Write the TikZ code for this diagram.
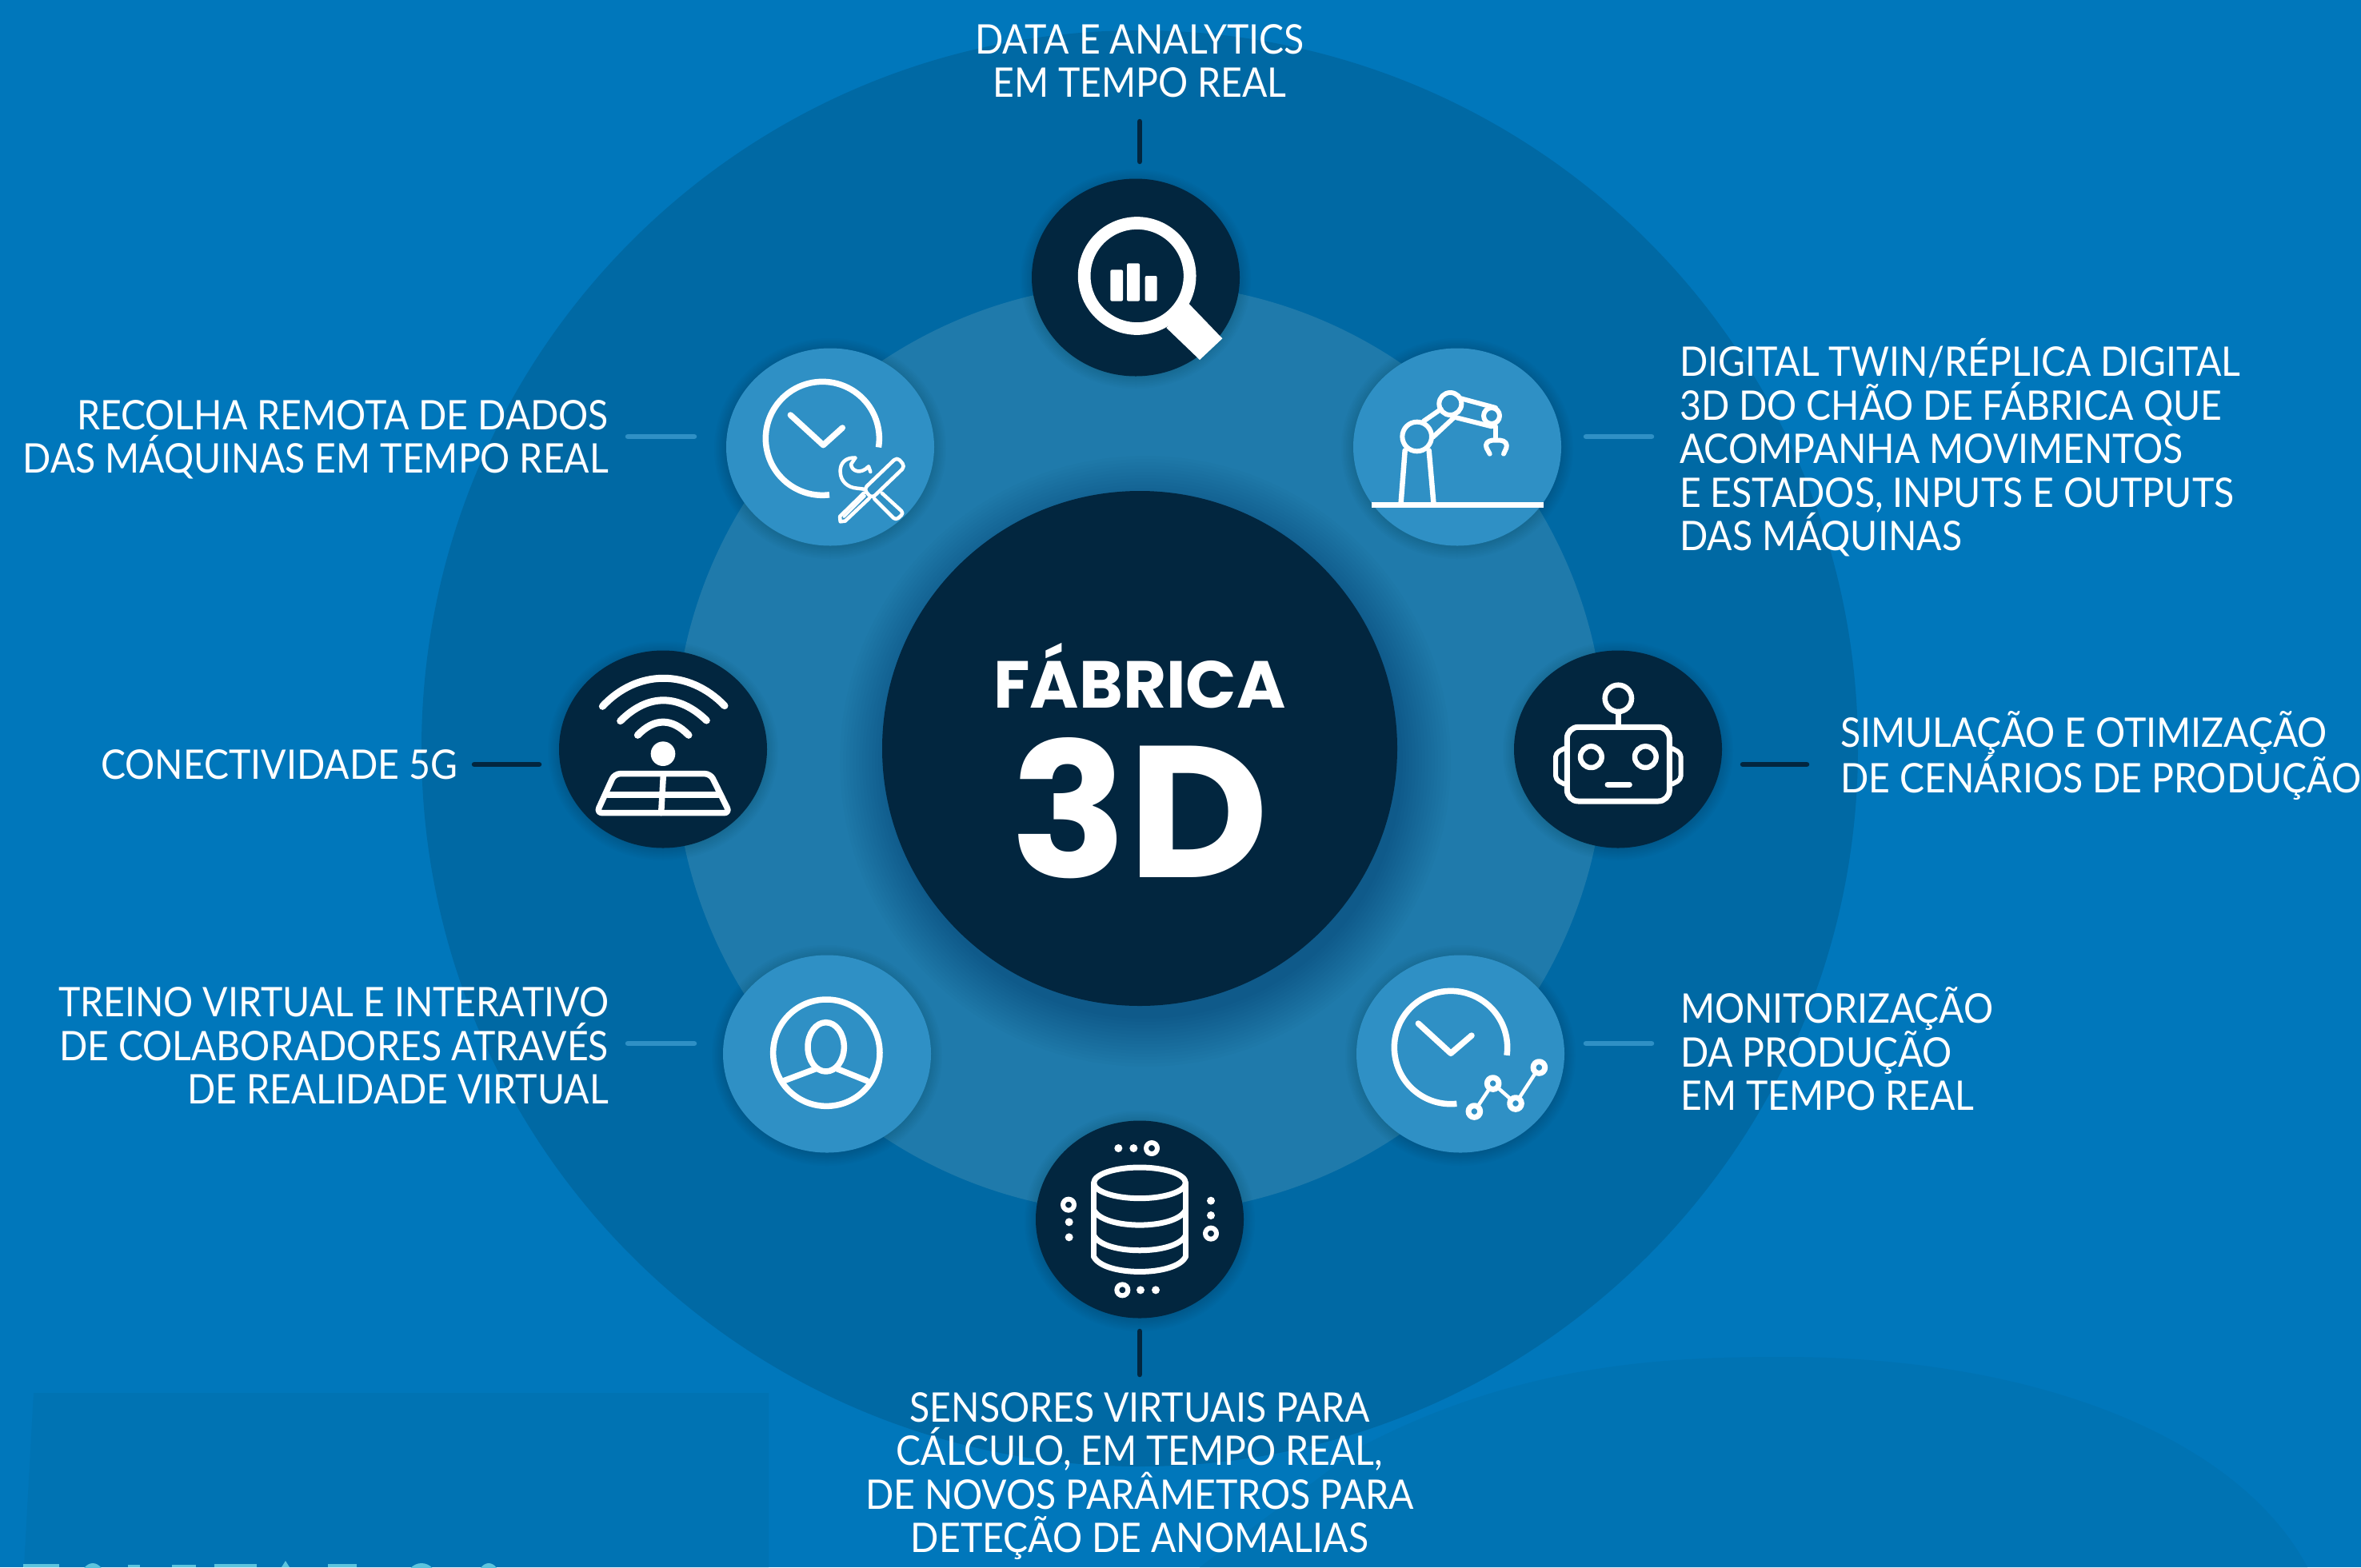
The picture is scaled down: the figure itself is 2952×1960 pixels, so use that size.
\documentclass[tikz,border=0pt]{standalone}
\usepackage{fontspec}
\usepackage{graphicx}
\setmainfont[FakeStretch=0.91]{Lato}
\newfontfamily\titlefont{Poppins}
\definecolor{bgblue}{HTML}{0077BB}
\definecolor{faint}{HTML}{0073B3}
\definecolor{ringout}{HTML}{0069A4}
\definecolor{ringmid}{HTML}{1F7AAB}
\definecolor{lightc}{HTML}{2F90C5}
\definecolor{darkc}{HTML}{02263F}
\definecolor{cutcyan}{HTML}{5CC4DE}
\tikzset{
  lab/.style={text=white,inner sep=0pt,font=\fontsize{51}{54.5}\selectfont},
  labl/.style={lab,anchor=west,align=left},
  labr/.style={lab,anchor=east,align=right},
  labc/.style={lab,anchor=center,align=center},
  bub/.style={ellipse,minimum width=260pt,minimum height=247pt,inner sep=0pt},
  bubd/.style={bub,fill=darkc},
  bubl/.style={bub,fill=lightc},
  cd/.style={darkc,line width=6.5pt,line cap=round},
  cl/.style={lightc,line width=6.5pt,line cap=round},
  ico/.style={white,line width=#1,line cap=round,line join=round},
  ico/.default=7pt
}
\usetikzlibrary{shapes.geometric}
\newcommand{\softsh}[4]{%
  \foreach \k in {0,2,...,14}{\fill[black,opacity=0.016] (#1,#2) ellipse [x radius=#3+\k,y radius=#4+\k];}}
\begin{document}
\begin{tikzpicture}[x=1pt,y=-1pt]
\useasboundingbox (0,0) rectangle (2952,1960);
\fill[bgblue] (0,0) rectangle (2952,1960);
% faint background shapes
\fill[faint] (42,1742) -- (961,1742) -- (961,1960) -- (30,1960) -- cycle;
\fill[faint] (1700,1810) .. controls (1900,1705) and (2080,1697) .. (2230,1697) .. controls (2550,1697) and (2800,1800) .. (2885,1960) -- (1500,1960) -- cycle;
% cropped line of text at the lower edge
\begin{scope}
\clip (0,1950) rectangle (2952,1960);
\fill[cutcyan] (29,1956) rectangle (74,1960);
\fill[cutcyan] (116,1975) ellipse [x radius=15,y radius=20];
\fill[cutcyan] (160,1957) rectangle (175,1960);
\fill[cutcyan] (215,1957) rectangle (245,1960);
\fill[cutcyan] (268,1956) rectangle (321,1960);
\fill[cutcyan] (352,1960) -- (357,1952) -- (362,1960) -- cycle;
\fill[cutcyan] (410,1956) rectangle (446,1960);
\fill[cutcyan] (527,1975) ellipse [x radius=19,y radius=20];
\fill[cutcyan] (611,1975) ellipse [x radius=14,y radius=20];
\end{scope}
% rings
\fill[ringout] (1425,936) circle [radius=898];
\fill[ringmid] (1425,936) circle [radius=582];
% bubbles
\softsh{1420}{349}{130}{123}
\softsh{1038}{561}{131}{124}
\softsh{1822}{561}{131}{124}
\softsh{829}{939}{130}{123}
\softsh{2023}{939}{130}{123}
\softsh{1034}{1320}{130}{124}
\softsh{1826}{1320}{130}{124}
\softsh{1425}{1527}{130}{124}
\node[bubd] (n1) at (1420,347) {};
\node[bubl] (n2) at (1038,559) {};
\node[bubl] (n3) at (1822,559) {};
\node[bubd] (n4) at (829,937) {};
\node[bubd] (n5) at (2023,937) {};
\node[bubl] (n6) at (1034,1318) {};
\node[bubl] (n7) at (1826,1318) {};
\node[bubd] (n8) at (1425,1525) {};
% centre
\foreach \k in {0,4,...,60}{\fill[black,opacity=0.011] (1432,952) circle [radius=322+\k];}
\node[circle,fill=darkc,minimum size=644pt,inner sep=0pt] (c) at (1425,936) {};
\node[text=white,inner sep=0pt] (t1) at (1425,845) {\resizebox{365pt}{!}{\titlefont\bfseries FÁBRICA}};
\node[text=white,inner sep=0pt] (t2) at (1425,1011) {\resizebox{322pt}{175pt}{\titlefont\bfseries 3D}};
% labels
\node[labc] (l1) at (1425,76) {DATA E ANALYTICS\\EM TEMPO REAL};
\node[labr] (l2) at (761,550) {RECOLHA REMOTA DE DADOS\\DAS MÁQUINAS EM TEMPO REAL};
\node[labl] (l3) at (2100,560) {DIGITAL TWIN/RÉPLICA DIGITAL\\3D DO CHÃO DE FÁBRICA QUE\\ACOMPANHA MOVIMENTOS\\E ESTADOS, INPUTS E OUTPUTS\\DAS MÁQUINAS};
\node[labr] (l4) at (572,956) {CONECTIVIDADE 5G};
\node[labl] (l5) at (2301,945) {SIMULAÇÃO E OTIMIZAÇÃO\\DE CENÁRIOS DE PRODUÇÃO};
\node[labr] (l6) at (761,1308) {TREINO VIRTUAL E INTERATIVO\\DE COLABORADORES ATRAVÉS\\DE REALIDADE VIRTUAL};
\node[labl] (l7) at (2101,1312) {MONITORIZAÇÃO\\DA PRODUÇÃO\\EM TEMPO REAL};
\node[labc] (l8) at (1425,1846) {SENSORES VIRTUAIS PARA\\CÁLCULO, EM TEMPO REAL,\\DE NOVOS PARÂMETROS PARA\\DETEÇÃO DE ANOMALIAS};
% connectors
\coordinate (a1) at (1425,152); \coordinate (b1) at (1425,202);
\coordinate (a2) at (785,546); \coordinate (b2) at (868,546);
\coordinate (a3) at (1983,546); \coordinate (b3) at (2065,546);
\coordinate (a4) at (593,956); \coordinate (b4) at (674,956);
\coordinate (a5) at (2179,956); \coordinate (b5) at (2259,956);
\coordinate (a6) at (785,1305); \coordinate (b6) at (868,1305);
\coordinate (a7) at (1983,1305); \coordinate (b7) at (2065,1305);
\coordinate (a8) at (1425,1665); \coordinate (b8) at (1425,1719);
\draw[cd] (a1)--(b1);
\draw[cl] (a2)--(b2);
\draw[cl] (a3)--(b3);
\draw[cd] (a4)--(b4);
\draw[cd] (a5)--(b5);
\draw[cl] (a6)--(b6);
\draw[cl] (a7)--(b7);
\draw[cd] (a8)--(b8);
% icon 1 magnifier
\begin{scope}[shift={(1260,200)},x=0.33333pt,y=-0.33333pt]
\draw[white,line width=15.7pt] (485,435) circle [radius=198];
\fill[white] (680,540)--(805,670)--(720,750)--(595,630)--cycle;
\fill[white,rounded corners=2pt] (385,412) rectangle (432,530);
\fill[white,rounded corners=2pt] (447,388) rectangle (495,530);
\fill[white,rounded corners=2pt] (515,435) rectangle (560,530);
\end{scope}
% icon 2 clock + tools
\begin{scope}[shift={(880,420)},x=0.33333pt,y=-0.33333pt]
\draw[ico=7.5pt,line cap=butt] (445,385) ++(83:213) arc [start angle=83,end angle=369,radius=213];
\draw[ico=7.5pt] (325,297)--(448,410)--(520,345);
\draw[ico=4.5pt,rounded corners=5pt] (600,575)--(725,455)--(755,490)--(630,610)--cycle;
\draw[ico=4.5pt] (600,590)--(510,678)--(512,697)--(530,695)--(620,610);
\draw[ico=3pt] (525,680)--(605,600);
\draw[ico=4.5pt,rounded corners=4pt] (640,612)--(720,692)--(750,665)--(668,590);
\draw[ico=4.5pt] (568,458) .. controls (530,455) and (510,480) .. (512,510) .. controls (512,545) and (540,570) .. (575,572) -- (600,575);
\draw[ico=4.5pt] (568,458) -- (552,482) .. controls (555,510) and (590,520) .. (618,490) -- (625,510);
\end{scope}
% icon 3 robot arm
\begin{scope}[shift={(1680,420)},x=0.33333pt,y=-0.33333pt]
\draw[ico=7.5pt,line cap=butt] (105,635)--(750,635);
\draw[ico=6.5pt] (215,625)--(230,430);
\draw[ico=6.5pt] (337,625)--(320,430);
\draw[ico=6pt] (275,378) circle [radius=55];
\draw[ico=6pt] (400,255) circle [radius=42];
\draw[ico=6pt] (555,300) circle [radius=30];
\draw[ico=6pt] (300,320)--(365,275);
\draw[ico=6pt] (335,380)--(410,310);
\draw[ico=6pt] (440,235)--(570,270);
\draw[ico=6pt] (415,305)--(555,340);
\draw[ico=6pt] (570,340)--(570,390);
\draw[ico=6pt,rounded corners=4pt] (548,443)--(530,410)--(545,392)--(600,392)--(615,410)--(600,443);
\end{scope}
% icon 4 5G
\begin{scope}[shift={(680,800)},x=0.33333pt,y=-0.33333pt]
\draw[ico=9pt] (220,250) .. controls (350,110) and (545,110) .. (678,248);
\draw[ico=9pt] (287,305) .. controls (390,202) and (505,202) .. (610,303);
\draw[ico=9pt] (352,358) .. controls (415,293) and (480,293) .. (543,358);
\fill[white] (447,428) circle [radius=46];
\draw[ico=7.5pt,rounded corners=7pt] (265,503)--(625,503)--(697,650)--(198,650)--cycle;
\draw[ico=7.5pt] (240,582)--(660,582);
\draw[ico=7.5pt] (448,510)--(440,650);
\end{scope}
% icon 5 robot head
\begin{scope}[shift={(1880,800)},x=0.33333pt,y=-0.33333pt]
\draw[ico=6.5pt] (430,220) circle [radius=50];
\draw[ico=6.5pt] (430,270)--(430,325);
\draw[ico=7pt,rounded corners=14pt] (238,328) rectangle (622,606);
\draw[ico=6.5pt] (328,440) circle [radius=40];
\draw[ico=6.5pt] (532,440) circle [radius=40];
\draw[ico=7pt] (390,543)--(472,543);
\draw[ico=6pt,rounded corners=5pt] (228,408)--(195,425)--(195,525)--(228,542);
\draw[ico=6pt,rounded corners=5pt] (632,408)--(665,425)--(665,525)--(632,542);
\end{scope}
% icon 6 user
\begin{scope}[shift={(880,1180)},x=0.33333pt,y=-0.33333pt]
\draw[ico=7.5pt] (460,410) circle [radius=200];
\draw[ico=7.5pt] (458,388) ellipse [x radius=68,y radius=92];
\draw[ico=7.5pt] (300,515)--(420,470);
\draw[ico=7.5pt] (500,470)--(612,515);
\end{scope}
% icon 7 clock + chart
\begin{scope}[shift={(1680,1180)},x=0.33333pt,y=-0.33333pt]
\draw[ico=7.5pt,line cap=butt] (402,390) ++(84:212) arc [start angle=84,end angle=368,radius=212];
\draw[ico=7.5pt] (280,300)--(402,412)--(480,345);
\draw[ico=4.5pt] (490,630)--(560,525)--(645,600)--(733,465);
\foreach \p in {(490,630),(560,525),(645,600),(733,465)}{
  \fill[lightc] \p circle [radius=22];
  \draw[ico=7pt] \p circle [radius=22];}
\end{scope}
% icon 8 database
\begin{scope}[shift={(1280,1390)},x=0.33333pt,y=-0.33333pt]
\draw[ico=7pt] (435,268) ellipse [x radius=172,y radius=58];
\draw[ico=7pt] (263,268)--(263,545);
\draw[ico=7pt] (607,268)--(607,545);
\draw[ico=7pt] (263,370) .. controls (300,445) and (570,445) .. (607,370);
\draw[ico=7pt] (263,465) .. controls (300,540) and (570,540) .. (607,465);
\draw[ico=7pt] (263,545) .. controls (300,620) and (570,620) .. (607,545);
\foreach \p in {(355,138),(412,138),(438,670),(495,670),(170,415),(170,472),(702,335),(702,390)}{\fill[white] \p circle [radius=15];}
\foreach \p in {(480,138),(370,670),(168,350),(702,458)}{\draw[ico=6pt] \p circle [radius=21];}
\end{scope}
\end{tikzpicture}
\end{document}
